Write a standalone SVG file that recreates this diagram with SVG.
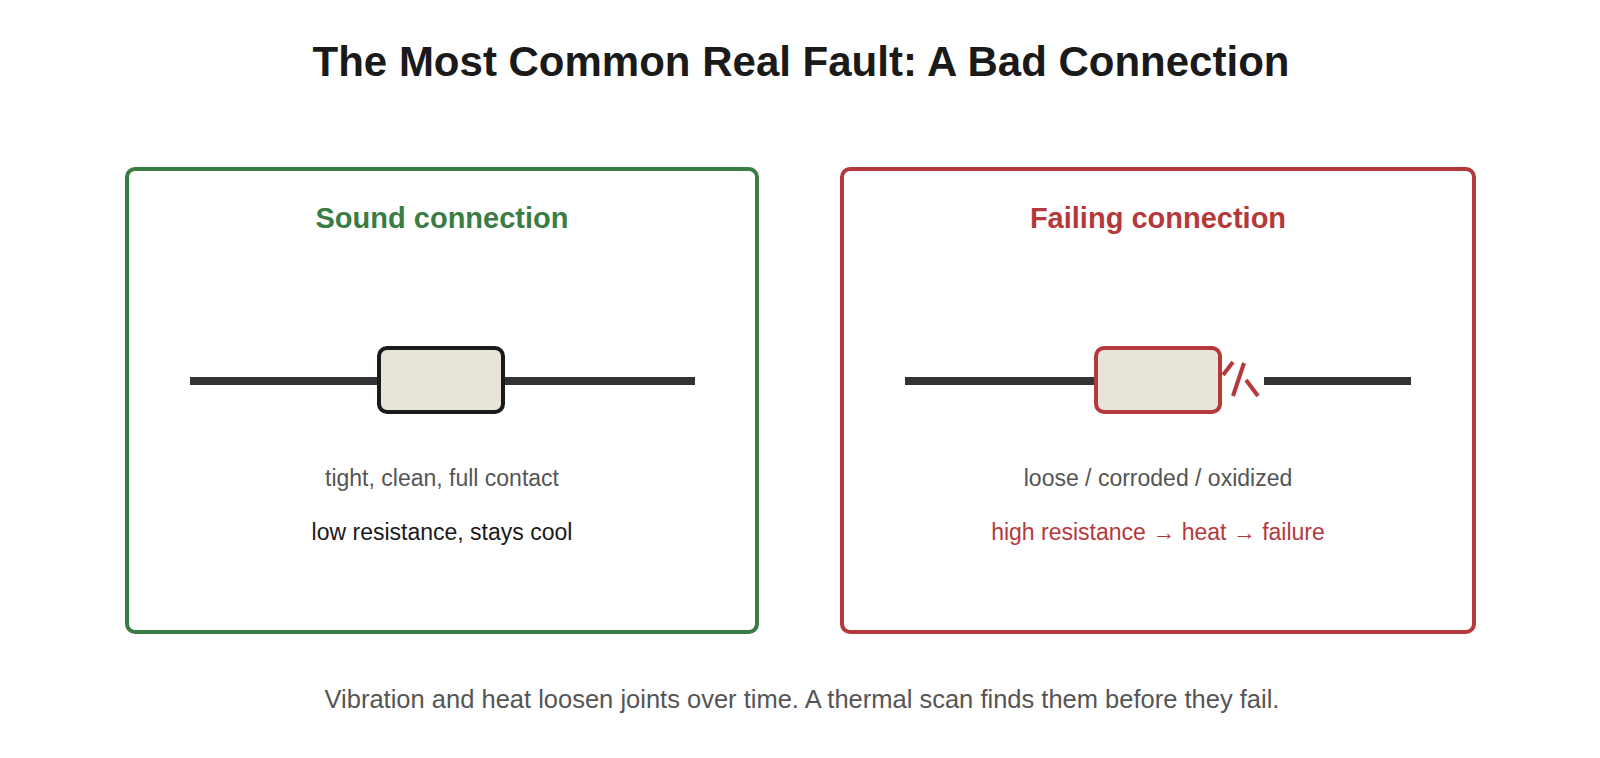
<svg xmlns="http://www.w3.org/2000/svg" width="1600" height="758" viewBox="0 0 1600 758">
<style>
text{font-family:"Liberation Sans",Arial,sans-serif;text-anchor:middle}
.title{font-size:42px;font-weight:bold;fill:#1a1a1a}
.ptitle{font-size:29px;font-weight:bold}
.sub{font-size:23px;fill:#555}
.wire{stroke:#333;stroke-width:8}
.box{fill:#e8e4d8;stroke-width:4}
</style>
<rect width="1600" height="758" fill="#fff"/>
<text class="title" x="801" y="76">The Most Common Real Fault: A Bad Connection</text>
<g id="sound">
<rect x="127" y="169" width="630" height="463" rx="8" fill="none" stroke="#3a7d44" stroke-width="4"/>
<text class="ptitle" x="442" y="228" fill="#3a7d44">Sound connection</text>
<line class="wire" x1="190" y1="381" x2="695" y2="381"/>
<rect class="box" x="379" y="348" width="124" height="64" rx="8" stroke="#1a1a1a"/>
<text class="sub" x="442" y="486">tight, clean, full contact</text>
<text x="442" y="540" font-size="23" fill="#1a1a1a">low resistance, stays cool</text>
</g>
<g id="failing">
<rect x="842" y="169" width="632" height="463" rx="8" fill="none" stroke="#b5393b" stroke-width="4"/>
<text class="ptitle" x="1158" y="228" fill="#b5393b">Failing connection</text>
<line class="wire" x1="905" y1="381" x2="1096" y2="381"/>
<line class="wire" x1="1264" y1="381" x2="1411" y2="381"/>
<rect class="box" x="1096" y="348" width="124" height="64" rx="8" stroke="#b5393b"/>
<g stroke="#b5393b" stroke-width="4">
<line x1="1223" y1="375" x2="1233" y2="362"/>
<line x1="1233" y1="396" x2="1244" y2="363"/>
<line x1="1246" y1="380" x2="1258" y2="396"/>
</g>
<text class="sub" x="1158" y="486">loose / corroded / oxidized</text>
<text x="1158" y="540" font-size="23" fill="#b5393b">high resistance → heat → failure</text>
</g>
<text x="802" y="708" font-size="25.5" fill="#555">Vibration and heat loosen joints over time. A thermal scan finds them before they fail.</text>
</svg>
